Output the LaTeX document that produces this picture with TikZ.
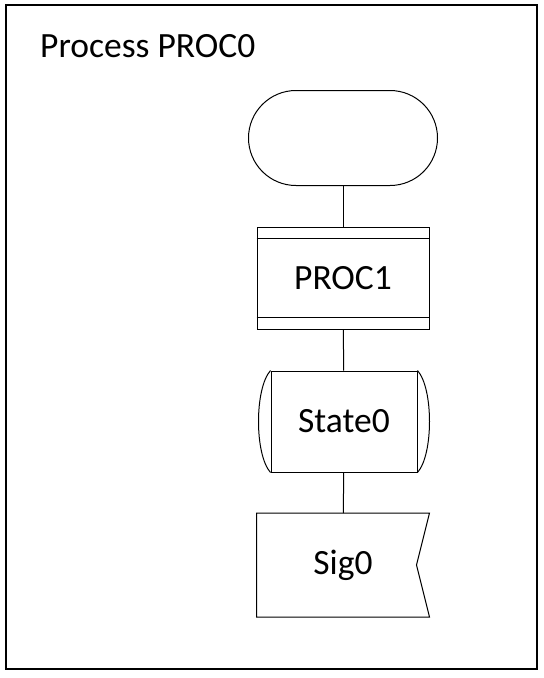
\documentclass[tikz,border=0pt]{standalone}
\usepackage{fontspec}
\setmainfont{Carlito}
\usetikzlibrary{shapes.misc,positioning}

\tikzset{
  sdlfont/.style={font=\fontsize{35.5}{40}\selectfont},
  sdlbox/.style={sdlfont,draw,line width=1pt,minimum width=172pt,minimum height=102pt,inner sep=0pt},
  sdlline/.style={line width=1pt}
}

\begin{document}
\begin{tikzpicture}[x=1pt,y=-1pt]
\useasboundingbox (0,0) rectangle (544,678);
\draw[line width=2pt] (5.5,4.5) rectangle (536.5,669);
\node[sdlfont,anchor=base west,inner sep=0pt] (title) at (40,57) {Process PROC0};

\node[sdlbox,rounded rectangle,minimum width=189pt,minimum height=95pt] (start) at (343,138) {};
\node[sdlbox] (proc) at (343,278) {PROC1};
\node[sdlbox,minimum width=146pt,minimum height=101pt] (state) at (344,421.5) {State0};
\node[sdlbox,draw=none,minimum height=103pt] (sig) at (343,565) {Sig0};

\draw[sdlline] ([yshift=-12pt]proc.north west) -- ([yshift=-12pt]proc.north east);
\draw[sdlline] ([yshift=12pt]proc.south west) -- ([yshift=12pt]proc.south east);

\draw[sdlline] (state.north east) .. controls ([xshift=16pt,yshift=-18pt]state.north east)
  and ([xshift=16pt,yshift=18pt]state.south east) .. (state.south east);
\draw[sdlline] (state.north west) .. controls ([xshift=-16pt,yshift=-18pt]state.north west)
  and ([xshift=-16pt,yshift=18pt]state.south west) .. (state.south west);

\draw[sdlline] (sig.north west) -- (sig.north east) -- ([xshift=-13pt]sig.east)
  -- (sig.south east) -- (sig.south west) -- cycle;

\draw[sdlline] (start) -- (proc);
\draw[sdlline] (proc) -- (state);
\draw[sdlline] (state) -- (sig);
\end{tikzpicture}
\end{document}
